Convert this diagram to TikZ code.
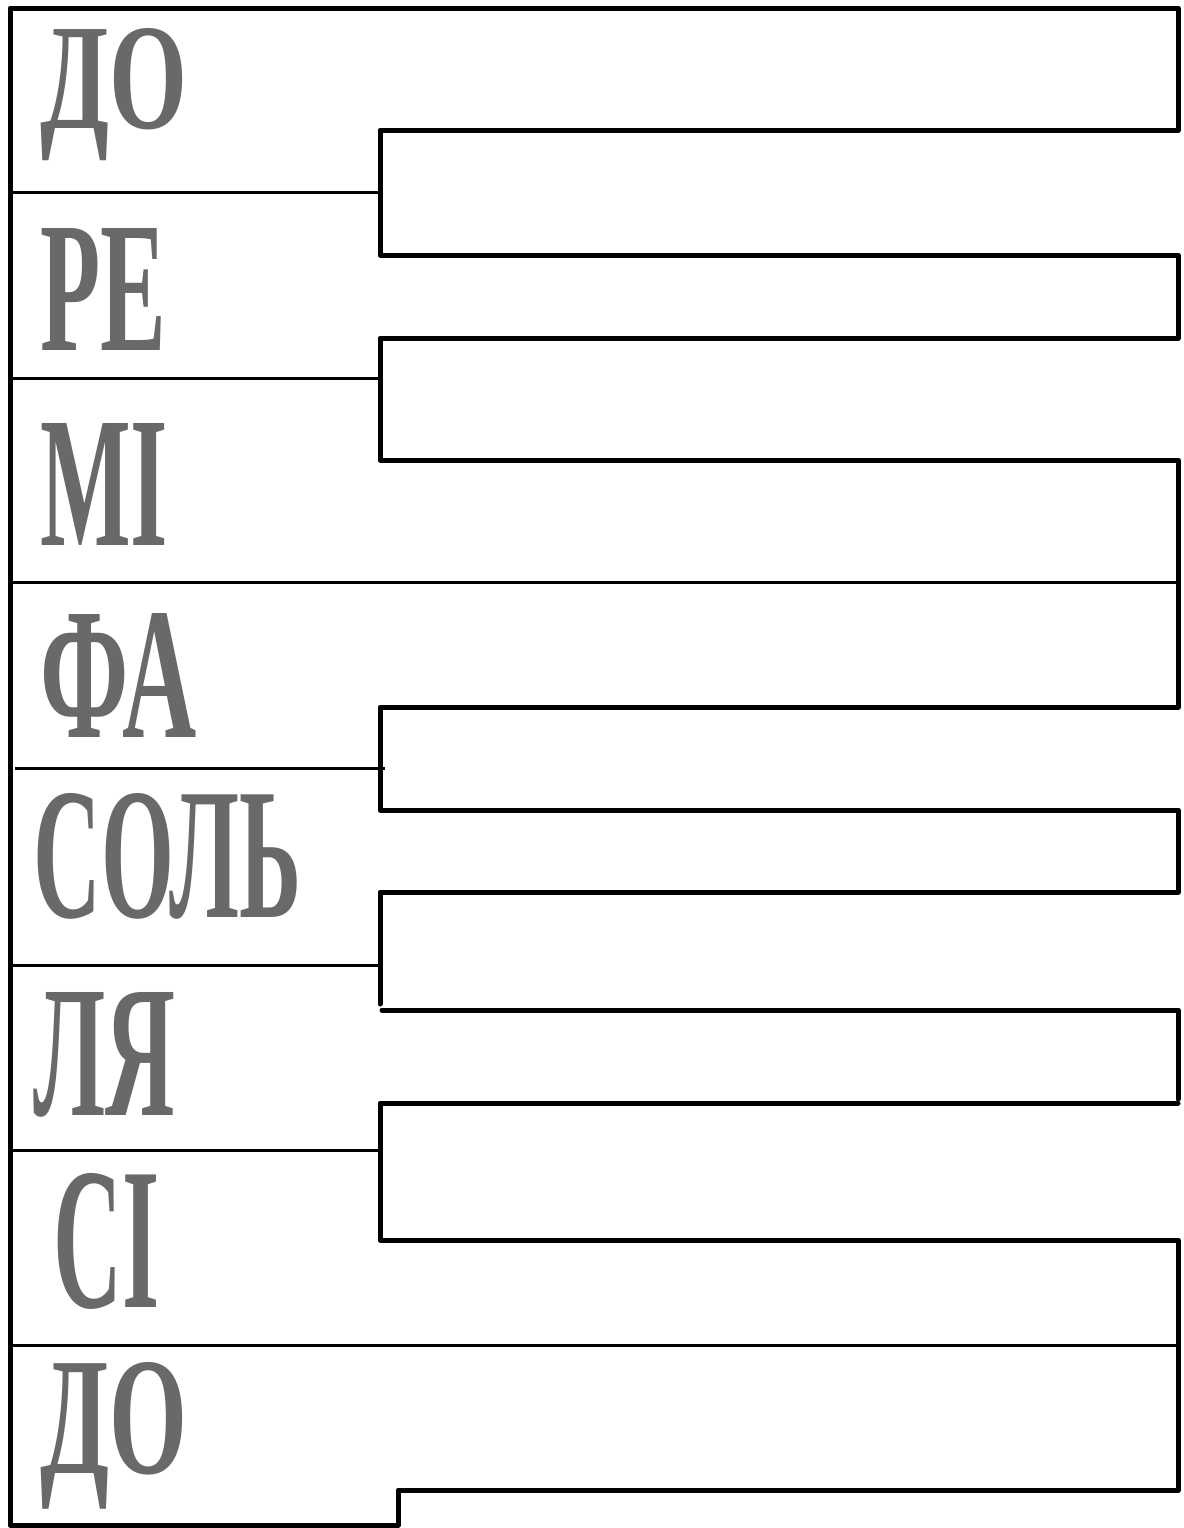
\documentclass[tikz,border=0pt]{standalone}
\usepackage{fontspec}
\setmainfont{Liberation Serif}
\newdimen\upx \upx=0.75pt
\definecolor{metal}{RGB}{105,105,105}
\tikzset{
  outline/.style={line width=5\upx, line join=round, line cap=round},
  sepline/.style={line width=3\upx},
  keylabel/.style={anchor=base west, inner sep=0pt, text=metal, font=\bfseries}
}
\begin{document}
\begin{tikzpicture}[x=0.75pt, y=-0.75pt]
\useasboundingbox (0,0) rectangle (1184,1528);
% outer outline of the keyboard (white keys + black key outlines)
\draw[outline] (1178,1103) -- (380,1103) -- (380,1240) -- (1178,1240)
  -- (1178,1490) -- (398,1490) -- (398,1525) -- (10,1525) -- (10,8)
  -- (1178,8) -- (1178,130) -- (380,130) -- (380,255)
  -- (1178,255) -- (1178,338) -- (380,338) -- (380,460) -- (1178,460)
  -- (1178,707) -- (380,707) -- (380,810) -- (1178,810) -- (1178,892)
  -- (380,892) -- (380,1004);
\draw[outline] (382,1010) -- (1178,1010) -- (1178,1099);
% separators between white keys
\draw[sepline] (10,192) -- (380,192);
\draw[sepline] (10,378) -- (380,378);
\draw[sepline] (10,582) -- (1178,582);
\draw[sepline] (15,768) -- (385,768);
\draw[sepline] (10,965) -- (380,965);
\draw[sepline] (10,1150) -- (380,1150);
\draw[sepline] (10,1345) -- (1178,1345);
% labels
\node[keylabel] (do1)  at (40,128)  {\resizebox{147\upx}{100\upx}{ДО}};
\node[keylabel] (re)   at (40,350)  {\resizebox{126\upx}{122\upx}{РЕ}};
\node[keylabel] (mi)   at (40,545)  {\resizebox{128\upx}{122\upx}{МІ}};
\node[keylabel] (fa)   at (40,737)  {\resizebox{156\upx}{124\upx}{ФА}};
\node[keylabel] (sol)  at (33,917)  {\resizebox{268\upx}{124\upx}{СОЛЬ}};
\node[keylabel] (lya)  at (33,1115) {\resizebox{142\upx}{123\upx}{ЛЯ}};
\node[keylabel] (si)   at (53,1307) {\resizebox{106\upx}{134\upx}{СІ}};
\node[keylabel] (do2)  at (40,1473) {\resizebox{147\upx}{111\upx}{ДО}};
\end{tikzpicture}
\end{document}
